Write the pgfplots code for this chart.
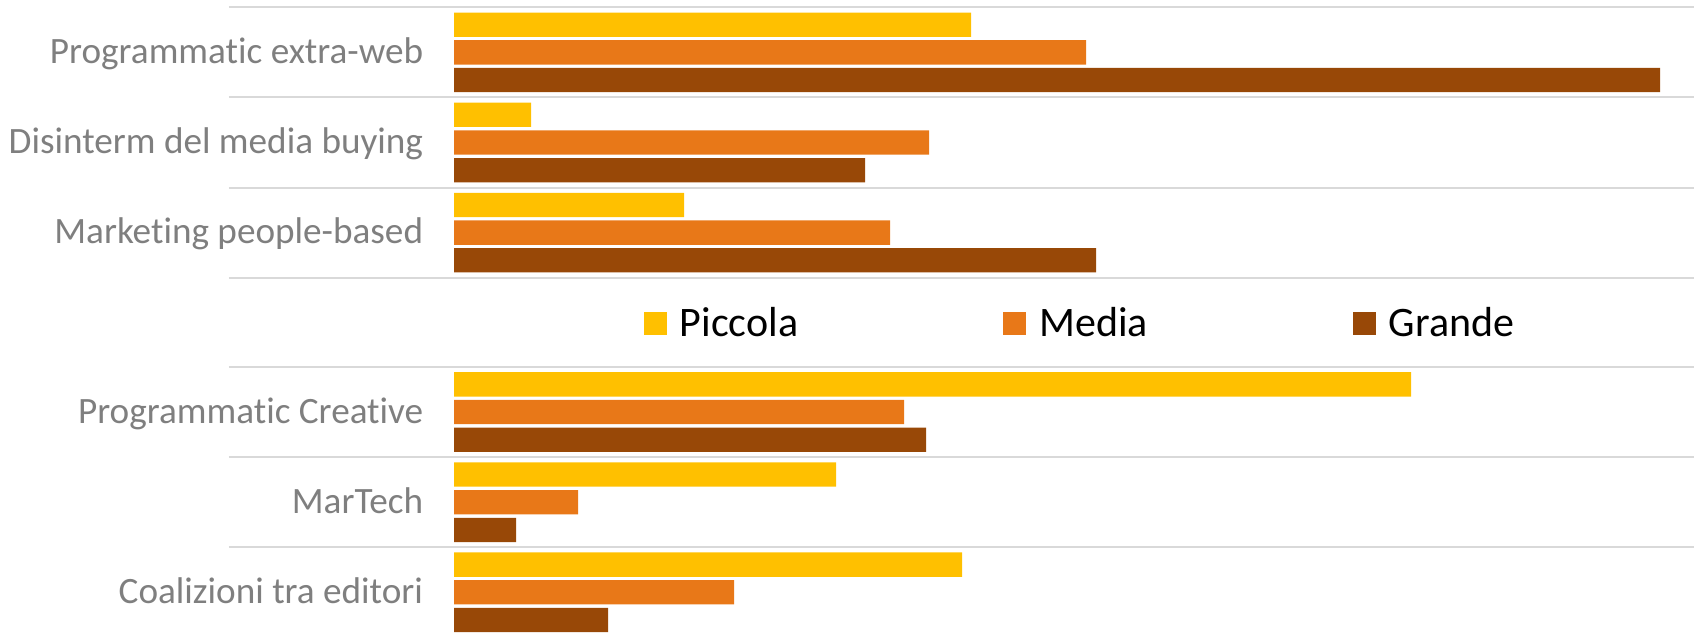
\documentclass[border=0pt]{standalone}
\usepackage{pgfplots}
\pgfplotsset{compat=1.18}
\usepackage{fontspec}
\setmainfont{Carlito}[Ligatures=NoCommon]
\definecolor{cP}{HTML}{FFC000}
\definecolor{cM}{HTML}{E87818}
\definecolor{cG}{HTML}{984807}
\definecolor{lab}{HTML}{7F7F7F}
\definecolor{grd}{HTML}{D9D9D9}
\pgfplotsset{
 panel/.style={
  scale only axis, width=732.5pt, height=135.2pt,
  xmin=-11.25, xmax=62, ymin=-0.5, ymax=2.5,
  xbar, bar width=12.15pt,
  axis line style={draw=none},
  xtick=\empty,
  ytick={0,1,2},
  minor ytick={-0.5,0.5,1.5,2.5},
  yminorgrids=true,
  minor grid style={grd, line width=1pt},
  major tick length=0pt, minor tick length=0pt,
  yticklabel style={font=\fontsize{18.6}{22}\selectfont, text=lab, anchor=base east, inner sep=0pt, xshift=97.25pt, yshift=-5.6pt},
  clip=false,
 },
}
\begin{document}
\begin{tikzpicture}
\useasboundingbox (0,0) rectangle (847pt,317pt);
\begin{axis}[panel, at={(114.5pt,313.35pt)}, anchor=north west,
  yticklabels={Marketing people-based, Disinterm del media buying, Programmatic extra-web},
  legend columns=3,
  legend cell align=left,
  legend style={at={(0.2829,-0.1705)}, anchor=west, draw=none, fill=none, inner sep=0pt,
    font=\fontsize{21}{24}\selectfont,
    nodes={inner sep=0pt},
    /tikz/every even column/.append style={column sep=102.5pt},
    /tikz/every odd column/.append style={column sep=6.5pt}},
]
\addplot[fill=cP, draw=none, bar shift=13.85pt, legend image code/.code={\fill[cP] (0pt,-5.75pt) rectangle (11.5pt,5.75pt);}]
  coordinates {(11.5,0) (3.85,1) (25.85,2)};
\addlegendentry{Piccola}
\addplot[fill=cM, draw=none, bar shift=0pt, legend image code/.code={\fill[cM] (0pt,-5.75pt) rectangle (11.5pt,5.75pt);}]
  coordinates {(21.8,0) (23.75,1) (31.6,2)};
\addlegendentry{Media}
\addplot[fill=cG, draw=none, bar shift=-13.85pt, legend image code/.code={\fill[cG] (0pt,-5.75pt) rectangle (11.5pt,5.75pt);}]
  coordinates {(32.1,0) (20.55,1) (60.3,2)};
\addlegendentry{Grande}
\end{axis}
\begin{axis}[panel, at={(114.5pt,133.5pt)}, anchor=north west,
  yticklabels={Coalizioni tra editori, MarTech, Programmatic Creative},
]
\addplot[fill=cP, draw=none, bar shift=13.85pt]
  coordinates {(25.4,0) (19.1,1) (47.85,2)};
\addplot[fill=cM, draw=none, bar shift=0pt]
  coordinates {(14.0,0) (6.2,1) (22.5,2)};
\addplot[fill=cG, draw=none, bar shift=-13.85pt]
  coordinates {(7.7,0) (3.1,1) (23.6,2)};
\end{axis}
\end{tikzpicture}
\end{document}
